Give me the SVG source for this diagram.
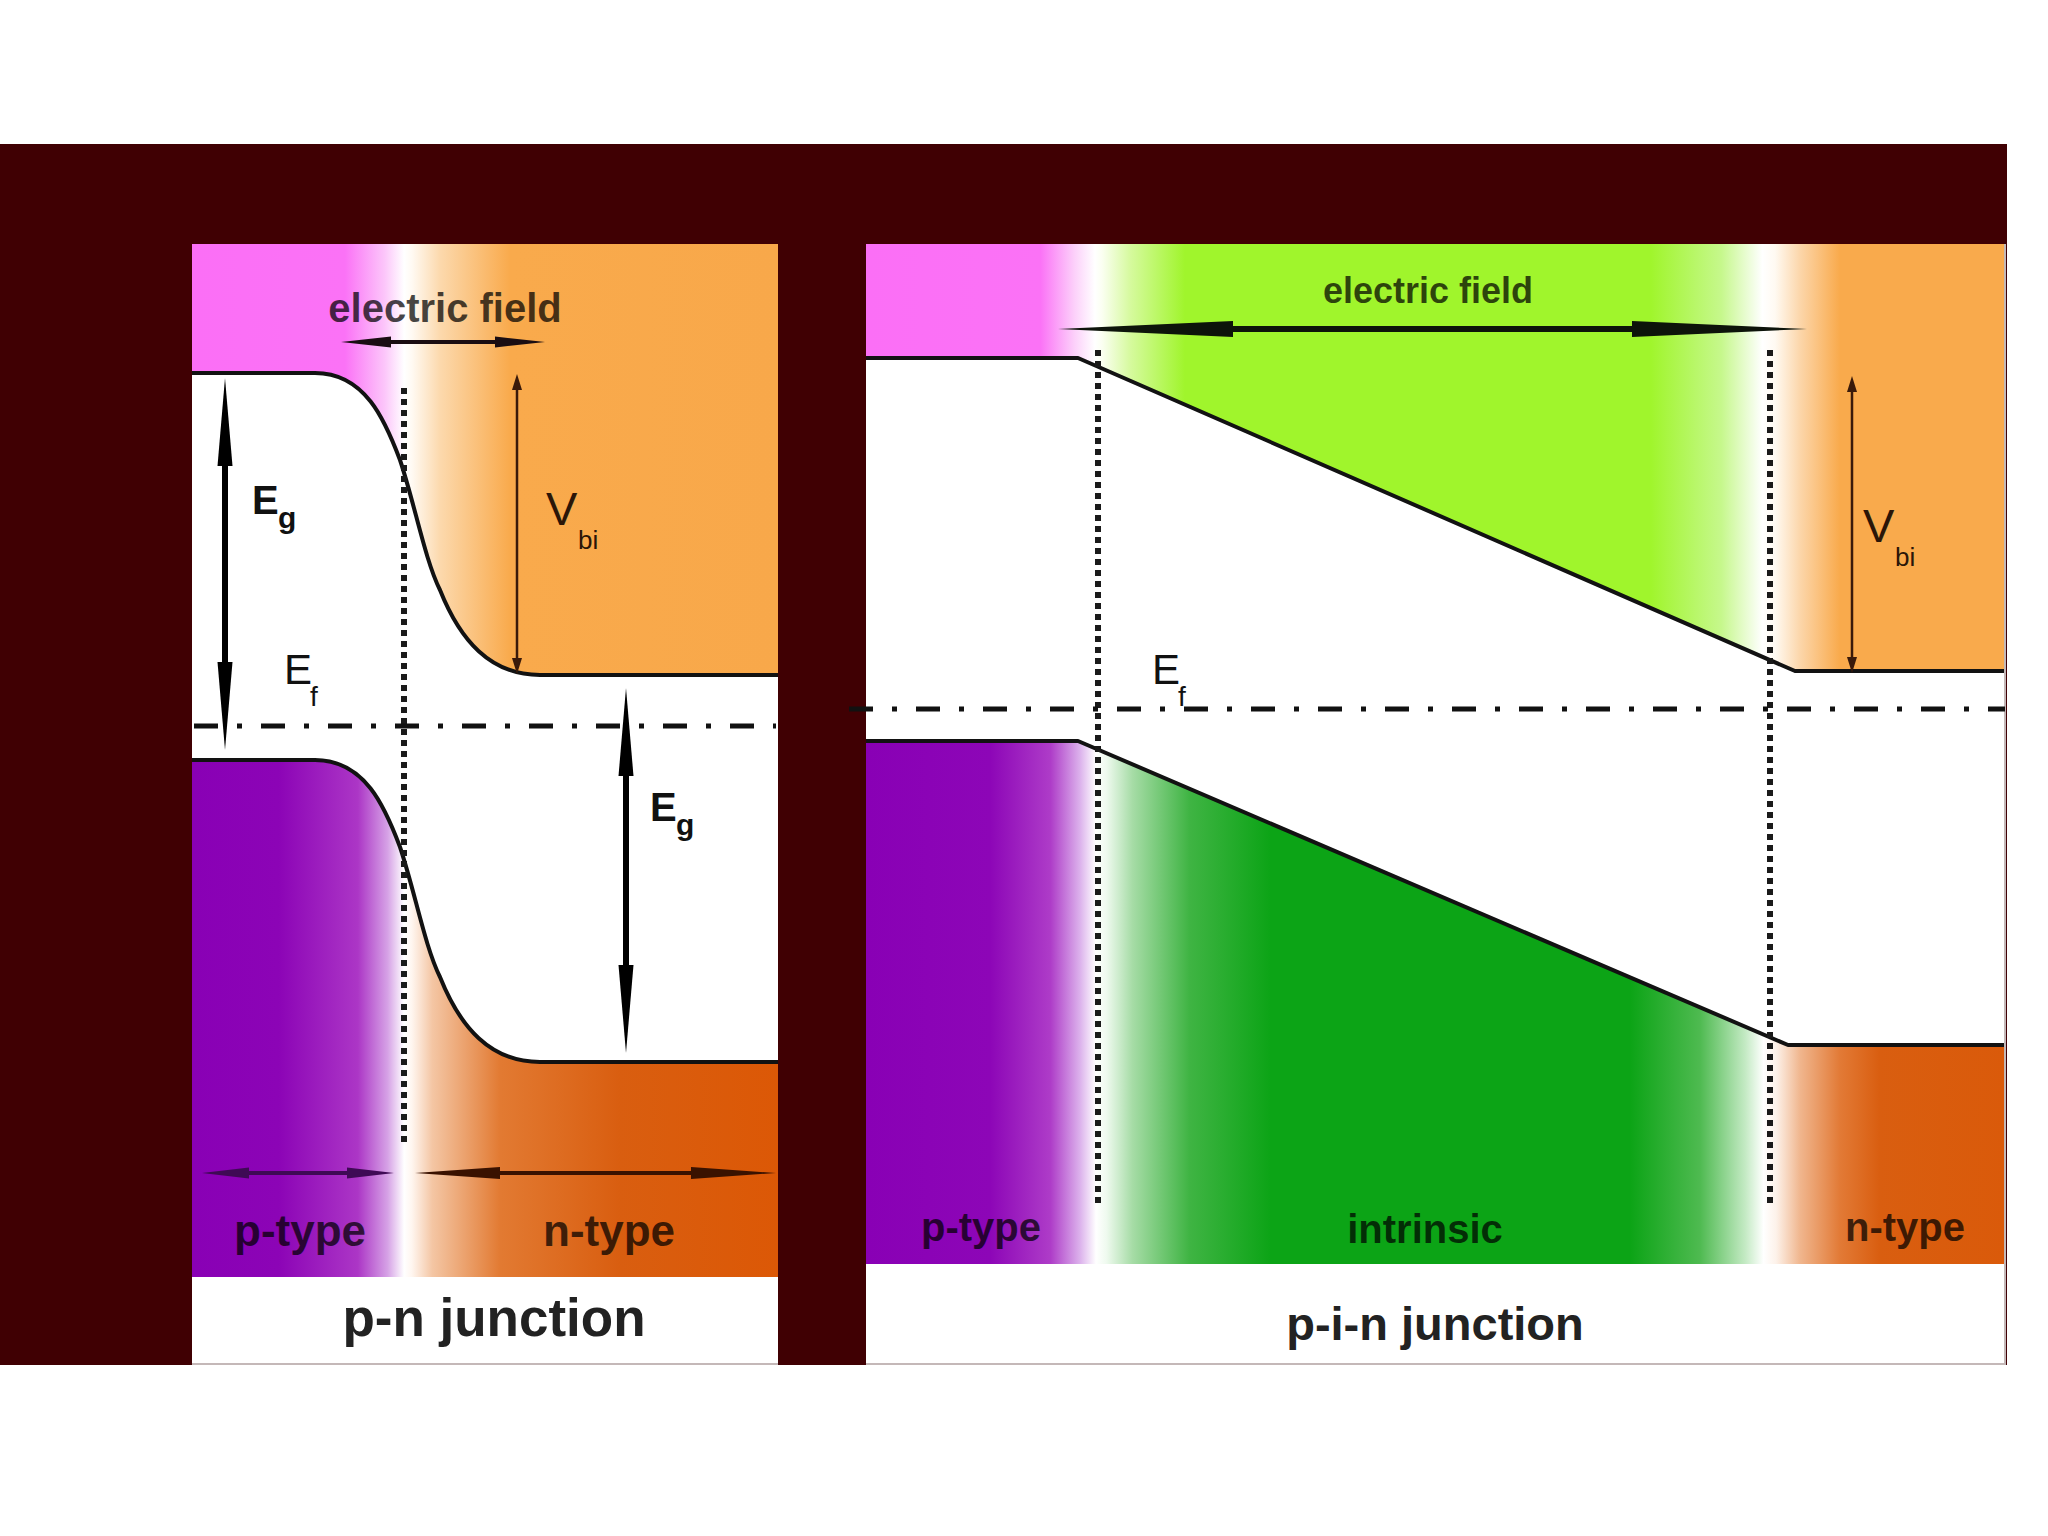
<svg xmlns="http://www.w3.org/2000/svg" width="2048" height="1536" viewBox="0 0 2048 1536">
<style>
.curve{fill:none;stroke:#121212;stroke-width:4;stroke-linejoin:round}
.fermi{fill:none;stroke:#111;stroke-width:5;stroke-dasharray:24 19 5 19}
.dots{fill:none;stroke:#1a1a1a;stroke-width:6;stroke-dasharray:6 5}
.lbl{font-family:"Liberation Sans",Arial,sans-serif;font-weight:bold;fill:#000;fill-opacity:0.72;text-anchor:middle}
.title{font-family:"Liberation Sans",Arial,sans-serif;font-weight:bold;fill:#222;text-anchor:middle}
.sym{font-family:"Liberation Sans",Arial,sans-serif;fill:#111}
.symb{font-family:"Liberation Sans",Arial,sans-serif;font-weight:bold;fill:#111}
.vbi{font-family:"Liberation Sans",Arial,sans-serif;fill:#2b1608}
.edge{fill:none;stroke:#c4b8b8;stroke-width:2}
</style>
<defs>
<linearGradient id="gTopL" gradientUnits="userSpaceOnUse" x1="192" y1="0" x2="778" y2="0">
<stop offset="0" stop-color="#fb6ff6"/><stop offset="0.261" stop-color="#fb72f6"/><stop offset="0.329" stop-color="#fcc6fa"/><stop offset="0.362" stop-color="#ffffff"/><stop offset="0.375" stop-color="#fffaf3"/><stop offset="0.423" stop-color="#fcd9ad"/><stop offset="0.543" stop-color="#f9aa4c"/><stop offset="1" stop-color="#f8a84a"/>
</linearGradient>
<linearGradient id="gBotL" gradientUnits="userSpaceOnUse" x1="192" y1="0" x2="778" y2="0">
<stop offset="0" stop-color="#8900b5"/><stop offset="0.148" stop-color="#8c04b6"/><stop offset="0.283" stop-color="#ac36c6"/><stop offset="0.334" stop-color="#d6a2e6"/><stop offset="0.362" stop-color="#ffffff"/><stop offset="0.375" stop-color="#fff6f0"/><stop offset="0.41" stop-color="#f4c6a4"/><stop offset="0.526" stop-color="#e27a32"/><stop offset="0.73" stop-color="#d95e10"/><stop offset="1" stop-color="#dc5806"/>
</linearGradient>
<linearGradient id="gTopR" gradientUnits="userSpaceOnUse" x1="866" y1="0" x2="2005" y2="0">
<stop offset="0" stop-color="#fb6ff6"/><stop offset="0.153" stop-color="#fb72f6"/><stop offset="0.183" stop-color="#fcd0fa"/><stop offset="0.201" stop-color="#ffffff"/><stop offset="0.207" stop-color="#fbfff2"/><stop offset="0.232" stop-color="#d6fa9e"/><stop offset="0.28" stop-color="#a0f52c"/><stop offset="0.689" stop-color="#a0f52c"/><stop offset="0.751" stop-color="#c6f88c"/><stop offset="0.787" stop-color="#ffffff"/><stop offset="0.798" stop-color="#fffaf2"/><stop offset="0.82" stop-color="#fcd6aa"/><stop offset="0.855" stop-color="#f9aa4c"/><stop offset="1" stop-color="#f9aa4c"/>
</linearGradient>
<linearGradient id="gBotR" gradientUnits="userSpaceOnUse" x1="866" y1="0" x2="2005" y2="0">
<stop offset="0" stop-color="#8900b5"/><stop offset="0.109" stop-color="#8d06b7"/><stop offset="0.162" stop-color="#ae3cc8"/><stop offset="0.188" stop-color="#dcb2ec"/><stop offset="0.202" stop-color="#ffffff"/><stop offset="0.211" stop-color="#effaef"/><stop offset="0.234" stop-color="#a6dca6"/><stop offset="0.284" stop-color="#3fb443"/><stop offset="0.355" stop-color="#0ca416"/><stop offset="0.671" stop-color="#0ca416"/><stop offset="0.732" stop-color="#4eba50"/><stop offset="0.772" stop-color="#c4eac4"/><stop offset="0.788" stop-color="#ffffff"/><stop offset="0.799" stop-color="#fdf2ea"/><stop offset="0.82" stop-color="#f0b68e"/><stop offset="0.855" stop-color="#e27a36"/><stop offset="0.89" stop-color="#d95e10"/><stop offset="1" stop-color="#da5a0a"/>
</linearGradient>
<marker id="hEg" viewBox="0 -8 88 16" refX="0" refY="0" markerWidth="88" markerHeight="16" markerUnits="userSpaceOnUse" orient="auto-start-reverse"><path d="M0,-7.5 L88,0 L0,7.5 Z" fill="#000"/></marker>
<marker id="hEfL" viewBox="0 -6 50 12" refX="0" refY="0" markerWidth="50" markerHeight="12" markerUnits="userSpaceOnUse" orient="auto-start-reverse"><path d="M0,-5.5 L50,0 L0,5.5 Z" fill="#1a0d12"/></marker>
<marker id="hEfR" viewBox="0 -8 175 16" refX="0" refY="0" markerWidth="175" markerHeight="16" markerUnits="userSpaceOnUse" orient="auto-start-reverse"><path d="M0,-8 L175,0 L0,8 Z" fill="#0d140a"/></marker>
<marker id="hBp" viewBox="0 -6 47 12" refX="0" refY="0" markerWidth="47" markerHeight="12" markerUnits="userSpaceOnUse" orient="auto-start-reverse"><path d="M0,-5.5 L47,0 L0,5.5 Z" fill="#3f0a55"/></marker>
<marker id="hBn" viewBox="0 -6 85 12" refX="0" refY="0" markerWidth="85" markerHeight="12" markerUnits="userSpaceOnUse" orient="auto-start-reverse"><path d="M0,-6 L85,0 L0,6 Z" fill="#3a1200"/></marker>
<marker id="hV" viewBox="0 -5 16 10" refX="0" refY="0" markerWidth="16" markerHeight="10" markerUnits="userSpaceOnUse" orient="auto-start-reverse"><path d="M0,-5 L16,0 L0,5 Z" fill="#3a1a0a"/></marker>
</defs>

<rect x="0" y="0" width="2048" height="1536" fill="#ffffff"/>
<rect x="0" y="144" width="2007" height="1221" fill="#400003"/>

<g id="pn-panel">
<rect x="192" y="244" width="586" height="1121" fill="#ffffff"/>
<path id="pn-top-region" d="M192,244 H778 V675 H540 C490,675 460,640 440,590 C425,560 415,505 400,460 C385,420 365,373 315,373 H192 Z" fill="url(#gTopL)"/>
<path id="pn-bottom-region" d="M192,760 H315 C365,760 385,807 400,847 C415,892 425,947 440,977 C460,1027 490,1062 540,1062 H778 V1277 H192 Z" fill="url(#gBotL)"/>
<path class="curve" d="M192,373 H315 C365,373 385,420 400,460 C415,505 425,560 440,590 C460,640 490,675 540,675 H778"/>
<path class="curve" d="M192,760 H315 C365,760 385,807 400,847 C415,892 425,947 440,977 C460,1027 490,1062 540,1062 H778"/>
<line class="edge" x1="192" y1="1364" x2="778" y2="1364"/>
</g>

<g id="pin-panel">
<rect x="866" y="244" width="1139" height="1121" fill="#ffffff"/>
<path id="pin-top-region" d="M866,244 H2005 V671 H1795 L1078,358 H866 Z" fill="url(#gTopR)"/>
<path id="pin-bottom-region" d="M866,741 H1078 L1788,1045 H2005 V1264 H866 Z" fill="url(#gBotR)"/>
<path class="curve" d="M866,358 H1078 L1795,671 H2005"/>
<path class="curve" d="M866,741 H1078 L1788,1045 H2005"/>
<path class="edge" d="M866,1364 H2005 V244"/>
</g>

<g id="connectors">
<line class="dots" x1="404" y1="388" x2="404" y2="1143"/>
<line class="dots" x1="1098" y1="350" x2="1098" y2="1208"/>
<line class="dots" x1="1770" y1="350" x2="1770" y2="1208"/>
<line class="fermi" x1="194" y1="726" x2="776" y2="726"/>
<line class="fermi" x1="849" y1="709" x2="2005" y2="709"/>
<line x1="225" y1="466" x2="225" y2="662" stroke="#000" stroke-width="6" marker-start="url(#hEg)" marker-end="url(#hEg)"/>
<line x1="626" y1="776" x2="626" y2="965" stroke="#000" stroke-width="6" marker-start="url(#hEg)" marker-end="url(#hEg)"/>
<line x1="391" y1="342" x2="495" y2="342" stroke="#1a0d12" stroke-width="4" marker-start="url(#hEfL)" marker-end="url(#hEfL)"/>
<line x1="1233" y1="329" x2="1632" y2="329" stroke="#0d140a" stroke-width="6" marker-start="url(#hEfR)" marker-end="url(#hEfR)"/>
<line x1="249" y1="1173" x2="347" y2="1173" stroke="#3f0a55" stroke-width="4" marker-start="url(#hBp)" marker-end="url(#hBp)"/>
<line x1="500" y1="1173" x2="691" y2="1173" stroke="#3a1200" stroke-width="4" marker-start="url(#hBn)" marker-end="url(#hBn)"/>
<line x1="517" y1="390" x2="517" y2="658" stroke="#3a1a0a" stroke-width="2.5" marker-start="url(#hV)" marker-end="url(#hV)"/>
<line x1="1852" y1="392" x2="1852" y2="657" stroke="#3a1a0a" stroke-width="2.5" marker-start="url(#hV)" marker-end="url(#hV)"/>
</g>

<g id="pn-labels">
<text class="lbl" x="445" y="322" font-size="40">electric field</text>
<text class="lbl" x="300" y="1246" font-size="44">p-type</text>
<text class="lbl" x="609" y="1246" font-size="44">n-type</text>
<text class="title" x="494" y="1336" font-size="53">p-n junction</text>
<text class="symb" x="252" y="514" font-size="40">E</text>
<text class="symb" x="278" y="528" font-size="30">g</text>
<text class="symb" x="650" y="821" font-size="40">E</text>
<text class="symb" x="676" y="835" font-size="30">g</text>
<text class="sym" x="284" y="684" font-size="42">E</text>
<text class="sym" x="310" y="706" font-size="28">f</text>
<text class="vbi" x="546" y="525" font-size="47">V</text>
<text class="vbi" x="578" y="549" font-size="26">bi</text>
</g>

<g id="pin-labels">
<text class="lbl" x="1428" y="303" font-size="36">electric field</text>
<text class="lbl" x="981" y="1241" font-size="40">p-type</text>
<text class="lbl" x="1425" y="1243" font-size="40">intrinsic</text>
<text class="lbl" x="1905" y="1241" font-size="40">n-type</text>
<text class="title" x="1435" y="1340" font-size="47">p-i-n junction</text>
<text class="sym" x="1152" y="684" font-size="42">E</text>
<text class="sym" x="1178" y="706" font-size="28">f</text>
<text class="vbi" x="1863" y="542" font-size="47">V</text>
<text class="vbi" x="1895" y="566" font-size="26">bi</text>
</g>
</svg>
